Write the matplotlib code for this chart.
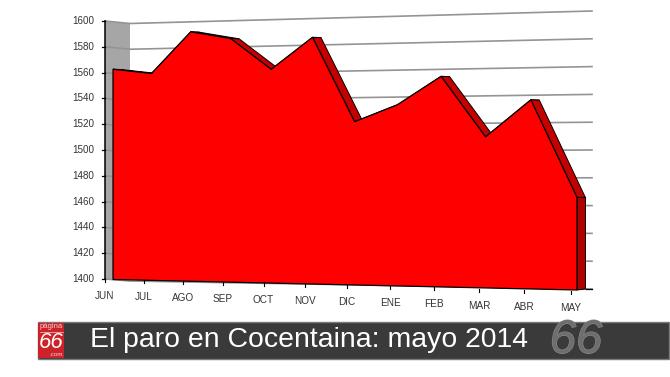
import matplotlib
matplotlib.use('Agg')
import matplotlib.pyplot as plt
import matplotlib.patheffects as pe
import numpy as np

plt.rcParams['font.family'] = ['Liberation Sans', 'DejaVu Sans']

# Data
months = ['JUN', 'JUL', 'AGO', 'SEP', 'OCT', 'NOV', 'DIC', 'ENE', 'FEB', 'MAR', 'ABR', 'MAY']
parados = [1563, 1559, 1590, 1584, 1560, 1583, 1520, 1532, 1552, 1508, 1534, 1465]
y_ticks = [1400, 1420, 1440, 1460, 1480, 1500, 1520, 1540, 1560, 1580, 1600]
title = 'El paro en Cocentaina: mayo 2014'

# Customisable options
RED = '#ff0000'
DARK = '#c40000'
DARKER = '#b00000'
GREY = '#a6a6a6'
TXT = '#333333'
GRID = '#949494'


def homography(src, dst):
    # 3x3 matrix sending four (month, value) corners to four pixel corners
    a = []
    b = []
    for (u, v), (x, y) in zip(src, dst):
        a.append([u, v, 1, 0, 0, 0, -u * x, -v * x])
        a.append([0, 0, 0, u, v, 1, -u * y, -v * y])
        b += [x, y]
    h = np.linalg.solve(np.array(a, float), np.array(b, float))
    return np.append(h, 1).reshape(3, 3)


def project(H, u, v):
    p = H @ np.array([u, v, 1.0])
    return p[0] / p[2], p[1] / p[2]


corners = [(0, 1400), (11, 1400), (11, 1600), (0, 1600)]
# front plane of the red area and back wall, both seen in perspective
H_front = homography(corners, [(113, 279.5), (577, 290), (577, 5), (113, 21.5)])
H_back = homography(corners, [(130, 281), (592, 289), (592, 11), (130, 23.5)])
H_axis = homography(corners, [(105, 279), (571, 291), (571, 5), (105, 21)])

fig = plt.figure(figsize=(6.7, 3.77), dpi=100)
ax = fig.add_axes([0, 0, 1, 1])
ax.set_xlim(0, 670)
ax.set_ylim(377, 0)
ax.axis('off')

# Left wall
wall = [project(H_axis, 0, 1600), project(H_back, 0, 1600),
        project(H_back, 0, 1400), project(H_axis, 0, 1400)]
ax.fill([p[0] for p in wall], [p[1] for p in wall], color=GREY, lw=0, zorder=1)

# Gridlines on the wall and the back plane
for t in y_ticks:
    a = project(H_axis, 0, t)
    b = project(H_back, 0, t)
    c = project(H_back, 11, t)
    ax.plot([a[0], b[0], c[0]], [a[1], b[1], c[1]], color=GRID, lw=1.2, zorder=2)
    ax.plot([a[0] - 3, a[0]], [a[1], a[1]], color='black', lw=0.9, zorder=5)
    ax.text(a[0] - 10.5, a[1], str(t), ha='right', va='center', fontsize=7.1, color=TXT)

# Axis lines
p0 = project(H_axis, 0, 1400)
p1 = project(H_axis, 0, 1600)
ax.plot([p0[0], p1[0]], [p0[1], p1[1]], color='black', lw=1.1, zorder=5)

# Extruded top of the area
front = [project(H_front, i, v) for i, v in enumerate(parados)]
depth = (8.5, 0.3)
for i in range(len(front) - 1):
    (x1, y1), (x2, y2) = front[i], front[i + 1]
    ax.fill([x1, x2, x2 + depth[0], x1 + depth[0]],
            [y1, y2, y2 + depth[1], y1 + depth[1]],
            facecolor=DARK, edgecolor='black', lw=0.7, zorder=3)

# End face
top = front[-1]
bot = project(H_front, 11, 1400)
ax.fill([top[0], top[0] + depth[0], bot[0] + depth[0], bot[0]],
        [top[1], top[1], bot[1] - 1, bot[1]],
        facecolor=DARKER, edgecolor='black', lw=0.7, zorder=3)

# Front area
bl = project(H_front, 0, 1400)
xs = [bl[0]] + [p[0] for p in front] + [bot[0]]
ys = [bl[1]] + [p[1] for p in front] + [bot[1]]
ax.fill(xs, ys, facecolor=RED, edgecolor='black', lw=0.9, joinstyle='miter', zorder=4)

# Month labels and ticks
for i, m in enumerate(months):
    x, y = project(H_axis, i, 1400)
    ax.plot([x, x], [y, y + 3], color='black', lw=0.8, zorder=5)
    ax.text(x, y + 17, m, ha='center', va='center', fontsize=7.2, color=TXT)
r = project(H_back, 11, 1400)
ax.plot([bot[0] + depth[0], r[0]], [r[1], r[1]], color='black', lw=0.9, zorder=5)

# Footer bar
ax.fill([38, 669, 669, 38], [321.5, 321.5, 359, 359], facecolor='#3a3a3a', edgecolor='#7a7a7a', lw=1, zorder=6)
ax.fill([38, 64, 64, 38], [323, 323, 358, 358], color='#cc2229', lw=0, zorder=7)
ax.text(51, 327, 'página', ha='center', va='center', fontsize=5.5, color='#f0d0d0', zorder=8)
ax.plot([40, 63], [331.5, 331.5], color='#f0d0d0', lw=0.5, zorder=8)
ax.text(51, 343, '66', ha='center', va='center', fontsize=16, color='white', style='italic', zorder=8)
ax.text(56, 355, '.com', ha='center', va='center', fontsize=4.5, color='#f0d0d0', zorder=8)
ax.text(90, 340, title, ha='left', va='center', fontsize=20.4, color='white', zorder=8)
ax.text(576, 341, '66', ha='center', va='center', fontsize=34, color='#6e6e6e', style='italic', zorder=8,
        path_effects=[pe.withStroke(linewidth=0.8, foreground='#8a8a8a')])

plt.savefig('out.png', dpi=100)
